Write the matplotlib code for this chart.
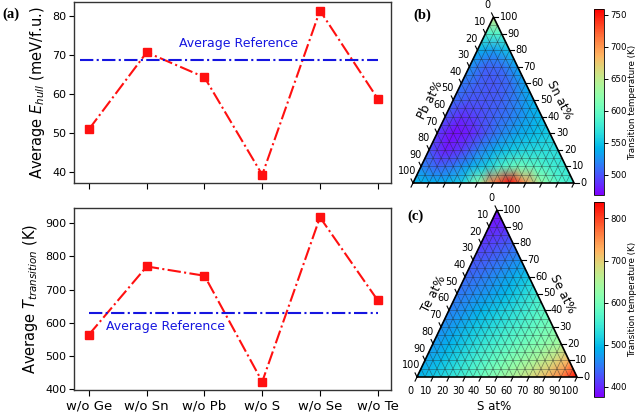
import numpy as np
import matplotlib
matplotlib.use('Agg')
import matplotlib.pyplot as plt
import matplotlib.tri as mtri
from matplotlib.colors import Normalize

# ---------------- data ----------------
categories = ['w/o Ge', 'w/o Sn', 'w/o Pb', 'w/o S', 'w/o Se', 'w/o Te']
ehull = [51.0, 70.7, 64.3, 39.3, 81.4, 58.8]
ehull_ref = 68.7
ttrans = [565, 770, 742, 423, 918, 668]
ttrans_ref = 630

# ternary (b): rows by Sn fraction 0,0.1..1 ; each row from Pb-rich (left) to Ge-rich (right)
tern_b_rows = [
    [545, 540, 540, 555, 620, 715, 759, 700, 625, 590, 575],
    [520, 505, 515, 535, 555, 585, 605, 595, 580, 572],
    [500, 478, 490, 515, 535, 550, 560, 565, 565],
    [490, 472, 480, 500, 520, 535, 545, 555],
    [500, 485, 495, 505, 515, 530, 545],
    [510, 500, 500, 505, 520, 540],
    [515, 505, 500, 510, 535],
    [525, 505, 510, 535],
    [540, 530, 550],
    [585, 590],
    [660],
]
# ternary (c): rows by Se fraction 0,0.1..1 ; each row from Te-rich (left) to S-rich (right)
tern_c_rows = [
    [490, 510, 535, 560, 590, 620, 650, 680, 715, 760, 835],
    [480, 500, 525, 550, 575, 600, 625, 650, 680, 720],
    [470, 490, 515, 540, 560, 580, 600, 620, 645],
    [462, 480, 505, 525, 545, 565, 585, 605],
    [455, 470, 490, 510, 530, 555, 580],
    [448, 460, 475, 495, 520, 550],
    [438, 450, 465, 485, 510],
    [425, 435, 450, 470],
    [410, 420, 435],
    [395, 402],
    [385],
]
cbar_b_range = (468, 759)
cbar_c_range = (376, 839)
cbar_b_ticks = [500, 550, 600, 650, 700, 750]
cbar_c_ticks = [400, 500, 600, 700, 800]
tern_tick_values = list(range(0, 101, 10))
tern_b_labels = ('Pb at%', 'Sn at%', None)
tern_c_labels = ('Te at%', 'Se at%', 'S at%')

# ---------------- figure ----------------
W, H = 640, 412
fig = plt.figure(figsize=(W / 100, H / 100), dpi=100)


def px_axes(x0, y0, x1, y1):
    return fig.add_axes([x0 / W, 1 - y1 / H, (x1 - x0) / W, (y1 - y0) / H])


def line_panel(ax, vals, ref, ylim, ref_x, ref_text_xy, ylabel, show_xlabels):
    x = np.arange(len(categories))
    ax.plot(x, vals, color='#ff1010', ls='-.', lw=1.5, marker='s', ms=6.2,
            mec='#ff1010', mfc='#ff1010')
    ax.hlines(ref, ref_x[0], ref_x[1], color='#1515e0', ls='-.', lw=1.5)
    ax.text(ref_text_xy[0], ref_text_xy[1], 'Average Reference', color='#1515e0',
            fontsize=9, ha='left', va='center')
    ax.set_xlim(-0.26, 5.23)
    ax.set_ylim(*ylim)
    ax.set_xticks(x)
    if show_xlabels:
        ax.set_xticklabels(categories, fontsize=9.5)
    else:
        ax.set_xticklabels([])
    ax.tick_params(axis='y', labelsize=8, length=3.5, width=0.8, pad=2)
    ax.tick_params(axis='x', length=4, width=0.8, pad=3)
    ax.set_ylabel(ylabel, fontsize=10.5, labelpad=4)
    for s in ax.spines.values():
        s.set_color('#333333')
        s.set_linewidth(1.0)


ax1 = px_axes(74, 2, 391, 183)
line_panel(ax1, ehull, ehull_ref, (37.2, 83.6), (-0.15, 5.0), (1.55, 73.0),
           r'Average $E_{hull}$ (meV/f.u.)', False)
ax2 = px_axes(74, 208, 391, 390)
line_panel(ax2, ttrans, ttrans_ref, (398, 946), (0.0, 5.0), (0.3, 590),
           r'Average $T_{transition}$ (K)', True)

fig.text(2 / W, 1 - 14 / H, '(a)', fontsize=10.5, fontweight='bold',
         family='Liberation Serif', ha='left', va='center')


def ternary(ax, rows, vrange, pxw, pxh, labels, show_bottom_labels):
    xs, ys, vs = [], [], []
    for i, row in enumerate(rows):
        t = i / 10
        for j, v in enumerate(row):
            r = j / 10
            xs.append(r + t / 2)
            ys.append(t)
            vs.append(v)
    tri = mtri.Triangulation(xs, ys)
    norm = Normalize(vmin=vrange[0], vmax=vrange[1])
    m = ax.tripcolor(tri, vs, cmap='rainbow', norm=norm, shading='gouraud')
    # grid lines every 5
    gkw = dict(color='#222222', lw=0.45, alpha=0.55)
    for k in range(1, 20):
        f = k / 20
        ax.plot([f / 2, 1 - f / 2], [f, f], **gkw)
        ax.plot([f, f + (1 - f) / 2], [0, 1 - f], **gkw)
        ax.plot([1 - f, (1 - f) / 2], [0, 1 - f], **gkw)
    ax.plot([0, 1, 0.5, 0], [0, 0, 1, 0], color='black', lw=1.2,
            solid_joinstyle='miter', clip_on=False)
    ax.set_xlim(0, 1)
    ax.set_ylim(0, 1)
    ax.axis('off')

    def d2(dx_px, dy_px):
        return dx_px / pxw, dy_px / pxh

    n = np.hypot(0.5 * pxw, pxh)
    dl = (-0.5 * pxw / n, pxh / n)     # left ticks: up-left
    db = (-0.5 * pxw / n, -pxh / n)    # bottom ticks: down-left
    dr = (1.0, 0.0)                    # right ticks
    tl = 4.5
    fs = 7
    tkw = dict(color='black', lw=0.8, clip_on=False)
    for v in tern_tick_values:
        f = v / 100
        # left axis: 0 at top, 100 at bottom-left
        px, py = 0.5 - 0.5 * f, 1 - f
        ddx, ddy = d2(dl[0] * tl, dl[1] * tl)
        ax.plot([px, px + ddx], [py, py + ddy], **tkw)
        ax.annotate(str(v), (px, py), xytext=(dl[0] * 13 * 0.72, dl[1] * 13 * 0.72),
                    textcoords='offset points', ha='center', va='center', fontsize=fs)
        # right axis: 100 at top, 0 at bottom-right
        px, py = 1 - 0.5 * f, f
        ddx, ddy = d2(dr[0] * tl, 0)
        ax.plot([px, px + ddx], [py, py], **tkw)
        ax.annotate(str(v), (px, py), xytext=(6 * 0.72, 0),
                    textcoords='offset points', ha='left', va='center', fontsize=fs)
        # bottom axis: 0 left, 100 right
        px, py = f, 0
        ddx, ddy = d2(db[0] * tl, db[1] * tl)
        ax.plot([px, px + ddx], [py, py + ddy], **tkw)
        if show_bottom_labels:
            ax.annotate(str(v), (px, py), xytext=(db[0] * 16 * 0.72, db[1] * 16 * 0.72),
                        textcoords='offset points', ha='center', va='center', fontsize=fs)
    if labels[0]:
        ax.annotate(labels[0], (0.25, 0.5), xytext=(-23 * 0.72, 0), textcoords='offset points',
                    rotation=63, ha='center', va='center', fontsize=8.5)
    if labels[1]:
        ax.annotate(labels[1], (0.75, 0.5), xytext=(26 * 0.72, 0), textcoords='offset points',
                    rotation=-63, ha='center', va='center', fontsize=8.5)
    if labels[2]:
        ax.annotate(labels[2], (0.5, 0), xytext=(-3 * 0.72, -29 * 0.72), textcoords='offset points',
                    ha='center', va='center', fontsize=8.5)
    return m


axb = px_axes(413, 17, 574, 183)
mb = ternary(axb, tern_b_rows, cbar_b_range, 161, 166, tern_b_labels, False)
axc = px_axes(417, 210, 577, 377)
mc = ternary(axc, tern_c_rows, cbar_c_range, 160, 167, tern_c_labels, True)

fig.text(413 / W, 1 - 15 / H, '(b)', fontsize=10.5, fontweight='bold',
         family='Liberation Serif', ha='left', va='center')
fig.text(407 / W, 1 - 216 / H, '(c)', fontsize=10.5, fontweight='bold',
         family='Liberation Serif', ha='left', va='center')

for m, box, ticks in [(mb, (594, 9, 604, 195), cbar_b_ticks),
                      (mc, (594, 202, 604, 397), cbar_c_ticks)]:
    cax = px_axes(*box)
    cb = fig.colorbar(m, cax=cax)
    cb.set_ticks(ticks)
    cb.ax.tick_params(labelsize=6.2, length=3, width=0.7, pad=1.5)
    cb.set_label('Transition temperature (K)', fontsize=6.3)
    lab = cb.ax.yaxis.label
    lab.set_rotation(90)
    lab.set_verticalalignment('center')
    lab.set_horizontalalignment('center')
    cb.ax.yaxis.set_label_coords(3.85, 0.5)
    cb.outline.set_linewidth(0.6)

fig.savefig('out.png', dpi=100)
